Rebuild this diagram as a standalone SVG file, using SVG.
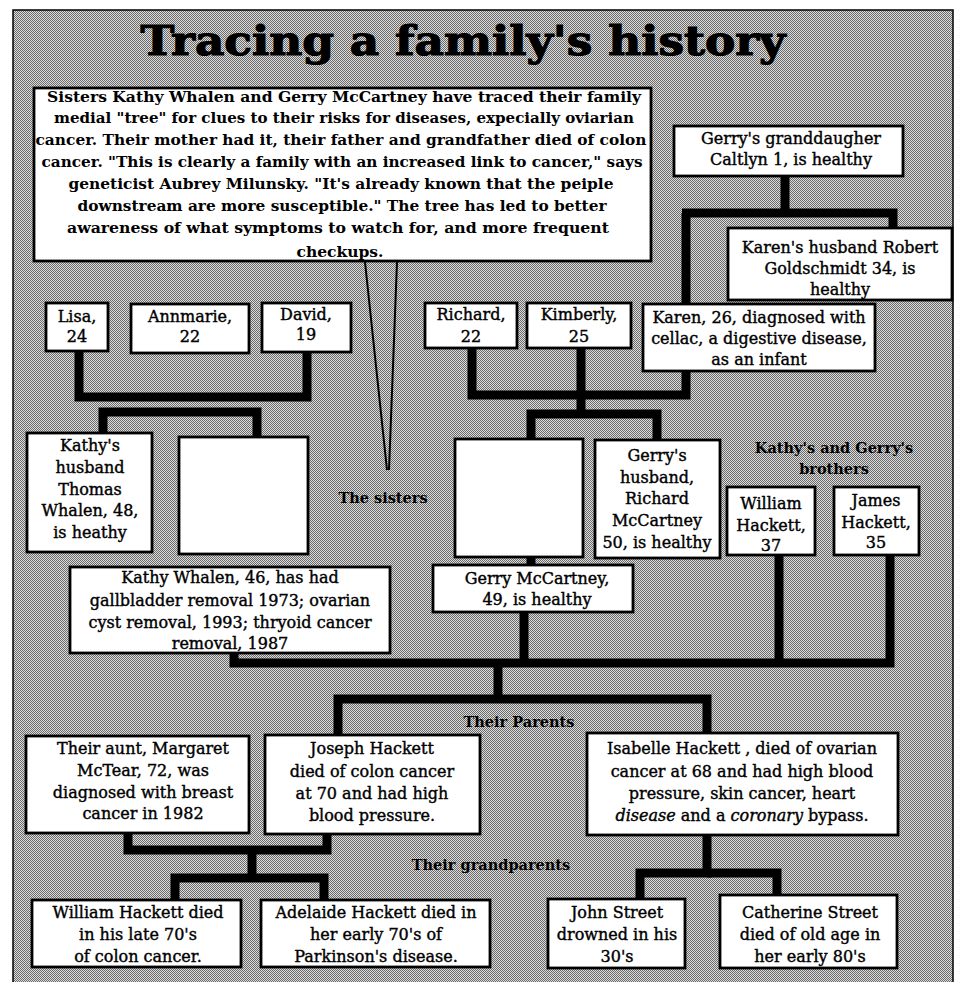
<svg xmlns="http://www.w3.org/2000/svg" width="963" height="982" viewBox="0 0 963 982">
<defs>
<pattern id="ht" width="2" height="2" patternUnits="userSpaceOnUse">
<rect width="2" height="2" fill="#dcdcdc"/>
<rect x="0" y="0" width="1" height="1" fill="#6a6a6a"/>
<rect x="1" y="1" width="1" height="1" fill="#6a6a6a"/>
</pattern>
</defs>
<style>
.box{fill:#fff;stroke:#000;stroke-width:2.8}
.t{font-family:'DejaVu Serif','Liberation Serif',serif;font-size:16px;text-anchor:middle;fill:#000;stroke:#000;stroke-width:0.4}
.p{font-family:'DejaVu Serif','Liberation Serif',serif;font-size:15.5px;font-weight:bold;text-anchor:middle;fill:#000}
.lbl{font-family:'DejaVu Serif','Liberation Serif',serif;font-size:14.5px;font-weight:bold;text-anchor:middle;fill:#000}
.title{font-family:'DejaVu Serif','Liberation Serif',serif;font-size:41px;font-weight:bold;text-anchor:middle;fill:#000;stroke:#000;stroke-width:1.2}
.conn{fill:none;stroke:#000;stroke-width:9;stroke-linejoin:miter}
.ptr{fill:none;stroke:#000;stroke-width:2}
</style>
<rect x="0" y="0" width="963" height="982" fill="#fff"/>
<rect x="13" y="10" width="940" height="975" fill="url(#ht)" stroke="#000" stroke-width="1.5"/>

<text class="title" x="463" y="55" textLength="645" lengthAdjust="spacingAndGlyphs">Tracing a family's history</text>

<g id="connectors">
<path class="conn" d="M79,351 V397 H307 V352"/>
<path class="conn" d="M103,437 V412 H257 V437"/>
<path class="conn" d="M472,348 V395 H686 V213"/>
<path class="conn" d="M785,176 V213"/>
<path class="conn" d="M682,213 H893 V228"/>
<path class="conn" d="M581,348 V414"/>
<path class="conn" d="M531,440 V414 H657 V440"/>
<path class="conn" d="M531,555 V566"/>
<path class="conn" d="M234,653 V663 H890 V555"/>
<path class="conn" d="M779,555 V663"/>
<path class="conn" d="M524,612 V663"/>
<path class="conn" d="M498,663 V699"/>
<path class="conn" d="M338,735 V699 H707 V735"/>
<path class="conn" d="M128,833 V850 H327 V833"/>
<path class="conn" d="M252,850 V878"/>
<path class="conn" d="M175,900 V878 H324 V900"/>
<path class="conn" d="M707,835 V873 H640 V900"/>
<path class="conn" d="M707,873 H777 V895"/>
<path class="ptr" d="M365,262 L387,470"/>
<path class="ptr" d="M397,262 L389,470"/>
</g>

<g id="intro">
<rect class="box" x="34" y="88" width="617" height="173"/>
<text class="p" x="344" y="102" textLength="594" lengthAdjust="spacingAndGlyphs">Sisters Kathy Whalen and Gerry McCartney have traced their family</text>
<text class="p" x="344" y="123" textLength="580" lengthAdjust="spacingAndGlyphs">medial "tree" for clues to their risks for diseases, expecially oviarian</text>
<text class="p" x="341" y="145" textLength="611" lengthAdjust="spacingAndGlyphs">cancer.  Their mother had it, their father and grandfather died of colon</text>
<text class="p" x="342" y="167" textLength="601" lengthAdjust="spacingAndGlyphs">cancer. "This is clearly a family with an increased link to cancer," says</text>
<text class="p" x="341" y="189" textLength="545" lengthAdjust="spacingAndGlyphs">geneticist Aubrey Milunsky. "It's already known that the peiple</text>
<text class="p" x="342" y="211" textLength="529" lengthAdjust="spacingAndGlyphs">downstream are more susceptible."  The tree has led to better</text>
<text class="p" x="338" y="233" textLength="542" lengthAdjust="spacingAndGlyphs">awareness of what symptoms to watch for, and more frequent</text>
<text class="p" x="340" y="257" textLength="87" lengthAdjust="spacingAndGlyphs">checkups.</text>
</g>

<g id="granddaughter">
<rect class="box" x="674" y="126" width="229" height="50"/>
<text class="t" x="791" y="144">Gerry's granddaugher</text>
<text class="t" x="791" y="165">Caltlyn 1, is healthy</text>
</g>

<g id="karens-husband">
<rect class="box" x="728" y="228" width="224" height="72"/>
<text class="t" x="840" y="253">Karen's husband Robert</text>
<text class="t" x="840" y="274">Goldschmidt 34, is</text>
<text class="t" x="840" y="295">healthy</text>
</g>

<g id="karen">
<rect class="box" x="643" y="304" width="232" height="67"/>
<text class="t" x="759" y="323">Karen, 26, diagnosed with</text>
<text class="t" x="759" y="344">cellac, a digestive disease,</text>
<text class="t" x="759" y="365">as an infant</text>
</g>

<g id="lisa">
<rect class="box" x="46" y="303" width="62" height="48"/>
<text class="t" x="77" y="322">Lisa,</text>
<text class="t" x="77" y="342">24</text>
</g>
<g id="annmarie">
<rect class="box" x="131" y="304" width="118" height="49"/>
<text class="t" x="190" y="322">Annmarie,</text>
<text class="t" x="190" y="342">22</text>
</g>
<g id="david">
<rect class="box" x="262" y="303" width="89" height="49"/>
<text class="t" x="306" y="320">David,</text>
<text class="t" x="306" y="340">19</text>
</g>
<g id="richard">
<rect class="box" x="425" y="303" width="92" height="45"/>
<text class="t" x="471" y="320">Richard,</text>
<text class="t" x="471" y="342">22</text>
</g>
<g id="kimberly">
<rect class="box" x="527" y="303" width="104" height="45"/>
<text class="t" x="579" y="320">Kimberly,</text>
<text class="t" x="579" y="342">25</text>
</g>

<g id="kathys-husband">
<rect class="box" x="27" y="433" width="125" height="119"/>
<text class="t" x="90" y="451">Kathy's</text>
<text class="t" x="90" y="473">husband</text>
<text class="t" x="90" y="495">Thomas</text>
<text class="t" x="90" y="516">Whalen, 48,</text>
<text class="t" x="90" y="538">is heathy</text>
</g>
<g id="kathy-photo">
<rect class="box" x="179" y="437" width="129" height="117"/>
</g>
<g id="sisters-label">
<text class="lbl" x="383" y="503">The sisters</text>
</g>
<g id="gerry-photo">
<rect class="box" x="455" y="439" width="128" height="118"/>
</g>
<g id="gerrys-husband">
<rect class="box" x="595" y="440" width="125" height="118"/>
<text class="t" x="657" y="461">Gerry's</text>
<text class="t" x="657" y="483">husband,</text>
<text class="t" x="657" y="504">Richard</text>
<text class="t" x="657" y="526">McCartney</text>
<text class="t" x="657" y="548">50, is healthy</text>
</g>
<g id="brothers-label">
<text class="lbl" x="834" y="453">Kathy's and Gerry's</text>
<text class="lbl" x="834" y="474">brothers</text>
</g>
<g id="william-brother">
<rect class="box" x="727" y="487" width="88" height="68"/>
<text class="t" x="771" y="509">William</text>
<text class="t" x="771" y="531">Hackett,</text>
<text class="t" x="771" y="551">37</text>
</g>
<g id="james">
<rect class="box" x="834" y="487" width="85" height="68"/>
<text class="t" x="876" y="506">James</text>
<text class="t" x="876" y="528">Hackett,</text>
<text class="t" x="876" y="548">35</text>
</g>

<g id="kathy">
<rect class="box" x="70" y="567" width="320" height="86"/>
<text class="t" x="230" y="583">Kathy Whalen, 46, has had</text>
<text class="t" x="230" y="606">gallbladder removal 1973; ovarian</text>
<text class="t" x="230" y="628">cyst removal, 1993; thryoid cancer</text>
<text class="t" x="230" y="649">removal, 1987</text>
</g>
<g id="gerry">
<rect class="box" x="433" y="565" width="200" height="47"/>
<text class="t" x="537" y="584">Gerry McCartney,</text>
<text class="t" x="537" y="605">49, is healthy</text>
</g>

<g id="parents-label">
<text class="lbl" x="519" y="727">Their Parents</text>
</g>
<g id="aunt">
<rect class="box" x="26" y="736" width="223" height="97"/>
<text class="t" x="143" y="754">Their  aunt, Margaret</text>
<text class="t" x="143" y="776">McTear, 72, was</text>
<text class="t" x="143" y="798">diagnosed with breast</text>
<text class="t" x="143" y="819">cancer in 1982</text>
</g>
<g id="joseph">
<rect class="box" x="265" y="735" width="215" height="99"/>
<text class="t" x="372" y="754">Joseph Hackett</text>
<text class="t" x="372" y="777">died of colon cancer</text>
<text class="t" x="372" y="799">at 70 and had high</text>
<text class="t" x="372" y="821">blood pressure.</text>
</g>
<g id="isabelle">
<rect class="box" x="587" y="733" width="311" height="102"/>
<text class="t" x="742" y="754">Isabelle Hackett , died of ovarian</text>
<text class="t" x="742" y="777">cancer at 68 and had high blood</text>
<text class="t" x="742" y="799">pressure, skin cancer, heart</text>
<text class="t" x="742" y="821"><tspan font-style="italic">disease</tspan> and a <tspan font-style="italic">coronary</tspan> bypass.</text>
</g>

<g id="grandparents-label">
<text class="lbl" x="491" y="870">Their grandparents</text>
</g>
<g id="william-grandfather">
<rect class="box" x="32" y="900" width="209" height="67"/>
<text class="t" x="138" y="918">William Hackett died</text>
<text class="t" x="138" y="940">in his late 70's</text>
<text class="t" x="138" y="962">of colon cancer.</text>
</g>
<g id="adelaide">
<rect class="box" x="261" y="900" width="229" height="67"/>
<text class="t" x="376" y="918">Adelaide Hackett died in</text>
<text class="t" x="376" y="940">her early 70's of</text>
<text class="t" x="376" y="962">Parkinson's disease.</text>
</g>
<g id="john">
<rect class="box" x="548" y="899" width="137" height="69"/>
<text class="t" x="617" y="918">John Street</text>
<text class="t" x="617" y="940">drowned in his</text>
<text class="t" x="617" y="962">30's</text>
</g>
<g id="catherine">
<rect class="box" x="720" y="895" width="177" height="73"/>
<text class="t" x="810" y="918">Catherine Street</text>
<text class="t" x="810" y="940">died of old age in</text>
<text class="t" x="810" y="962">her early 80's</text>
</g>
</svg>
